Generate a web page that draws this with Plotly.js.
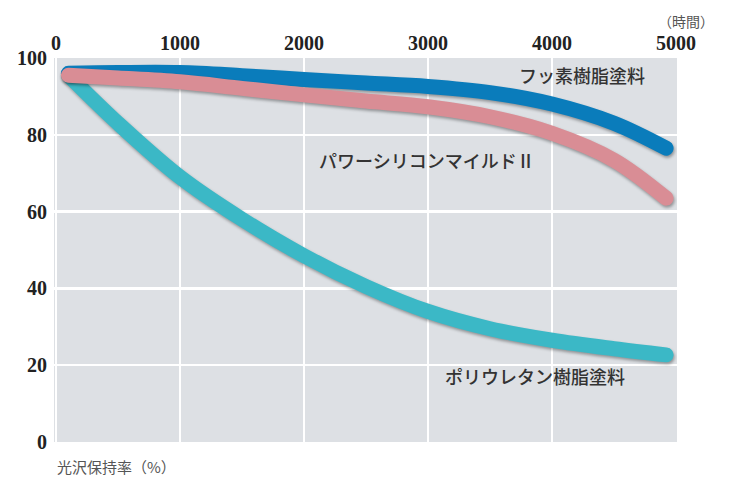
<!DOCTYPE html>
<html>
<head>
<meta charset="utf-8">
<script src="https://cdn.plot.ly/plotly-3.0.1.min.js"></script>
<style>
  html, body { margin: 0; padding: 0; background: #ffffff; }
  #chart { width: 730px; height: 485px; }
  .scatterlayer .js-line { stroke-linecap: round; stroke-linejoin: round; }
  .scatterlayer .trace { filter: drop-shadow(1px 2px 1.5px rgba(0,0,0,0.35)); }
</style>
</head>
<body>
<div id="chart"></div>
<script>
// Hours (x) and gloss retention (%)
const hours = [100, 500, 1000, 1500, 2000, 2500, 3000, 3500, 4000, 4500, 4920];
const fluoro = [96.0, 96.2, 96.2, 95.4, 94.4, 93.5, 92.6, 91.0, 88.0, 83.0, 76.5];
const powerSilicon = [95.5, 94.8, 93.8, 92.1, 90.4, 88.8, 87.3, 84.7, 80.4, 73.4, 63.5];
const urethane = [95.5, 83.0, 69.0, 58.0, 48.5, 40.5, 34.0, 29.5, 26.5, 24.3, 22.7];

const seriesNames = ['フッ素樹脂塗料', 'パワーシリコンマイルドⅡ', 'ポリウレタン樹脂塗料'];
const xTicks = [0, 1000, 2000, 3000, 4000, 5000];
const yTicks = [0, 20, 40, 60, 80, 100];

const jp = '"Noto Sans CJK JP", "Noto Sans", sans-serif';
const serif = '"Liberation Serif", "DejaVu Serif", serif';

const traces = [
  { x: hours, y: urethane, name: seriesNames[2], mode: 'lines',
    line: { color: '#3bb8c6', width: 15, shape: 'spline', smoothing: 1 } },
  { x: hours, y: fluoro, name: seriesNames[0], mode: 'lines',
    line: { color: '#0a7cbb', width: 15, shape: 'spline', smoothing: 1 } },
  { x: hours, y: powerSilicon, name: seriesNames[1], mode: 'lines',
    line: { color: '#d98d95', width: 15, shape: 'spline', smoothing: 1 } }
];

const labelFont = { family: jp, size: 18, color: '#333333', weight: 500 };
const tickFont = { family: serif, size: 20, color: '#222222', weight: 'bold' };

const layout = {
  width: 730, height: 485,
  margin: { l: 54, r: 53, t: 58, b: 43, pad: 0 },
  paper_bgcolor: '#ffffff',
  plot_bgcolor: '#dde0e4',
  showlegend: false,
  xaxis: {
    side: 'top', range: [-16, 5008], tickvals: xTicks,
    ticktext: xTicks.map(String),
    showgrid: true, gridcolor: '#ffffff', gridwidth: 2.5,
    zeroline: false, showline: false, ticks: '',
    tickfont: tickFont,
    ticklabelstandoff: 3
  },
  yaxis: {
    range: [0, 100], tickvals: yTicks, ticktext: yTicks.map(String),
    showgrid: true, gridcolor: '#ffffff', gridwidth: 2.5,
    zeroline: false, showline: false, ticks: '',
    tickfont: tickFont,
    ticklabelstandoff: 6
  },
  annotations: [
    { x: 4242, y: 95.6, xref: 'x', yref: 'y', text: seriesNames[0], showarrow: false,
      xanchor: 'center', yanchor: 'middle', font: labelFont },
    { x: 2992, y: 73.4, xref: 'x', yref: 'y', text: seriesNames[1], showarrow: false,
      xanchor: 'center', yanchor: 'middle', font: labelFont },
    { x: 3863, y: 17.2, xref: 'x', yref: 'y', text: seriesNames[2], showarrow: false,
      xanchor: 'center', yanchor: 'middle', font: labelFont },
    { x: 1.0145, y: 1.096, xref: 'paper', yref: 'paper', text: '（時間）', showarrow: false,
      xanchor: 'center', yanchor: 'middle', font: { family: jp, size: 14, color: '#555555' } },
    { x: 0.0016, y: -0.065, xref: 'paper', yref: 'paper', text: '光沢保持率（%）', showarrow: false,
      xanchor: 'left', yanchor: 'middle', font: { family: jp, size: 15, color: '#555555' } }
  ]
};

Plotly.newPlot('chart', traces, layout, { displayModeBar: false, staticPlot: true });
</script>
</body>
</html>
